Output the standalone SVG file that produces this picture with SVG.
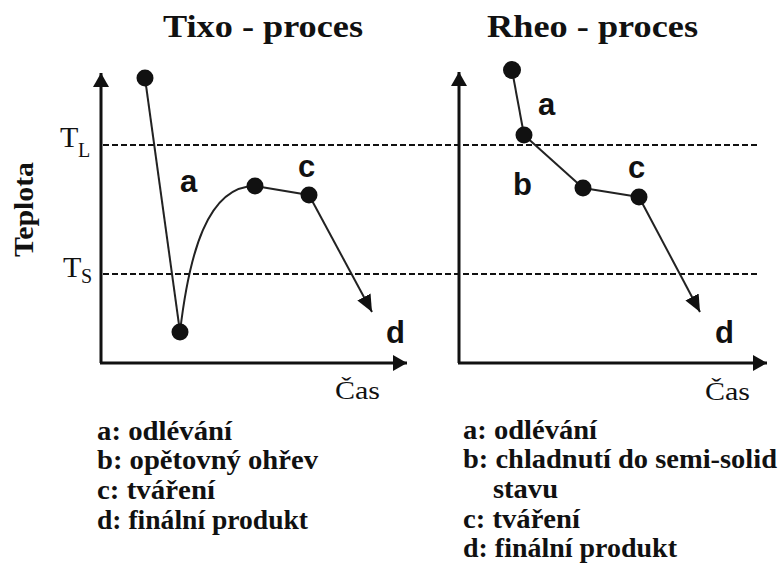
<svg xmlns="http://www.w3.org/2000/svg" width="780" height="568" viewBox="0 0 780 568">
<style>
.title{font-family:"Liberation Serif","Times New Roman",serif;font-weight:bold;font-size:32px;fill:#111}
.leg{font-family:"Liberation Serif","Times New Roman",serif;font-weight:bold;font-size:27.5px;fill:#111}
.lbl{font-family:"Liberation Sans",Arial,sans-serif;font-weight:bold;font-size:31px;fill:#111}
.tt{font-family:"Liberation Serif","Times New Roman",serif;font-size:30px;fill:#111}
.ts{font-family:"Liberation Serif","Times New Roman",serif;font-size:20px;fill:#111}
.cas{font-family:"Liberation Serif","Times New Roman",serif;font-size:26px;fill:#111}
.axis{stroke:#111;stroke-width:3;fill:none}
.dash{stroke:#111;stroke-width:2;stroke-dasharray:6 3;fill:none}
.conn{stroke:#222;stroke-width:2;fill:none}
.dot{fill:#111}
</style>
<defs>
<marker id="axhead" markerUnits="userSpaceOnUse" markerWidth="16" markerHeight="18" refX="14" refY="8" orient="auto">
<path d="M0,0 L14,8 L0,16 Z" fill="#111"/>
</marker>
<marker id="arhead" markerUnits="userSpaceOnUse" markerWidth="18" markerHeight="16" refX="17" refY="7.5" orient="auto">
<path d="M0,0 L17,7.5 L0,15 Z" fill="#111"/>
</marker>
</defs>
<rect width="780" height="568" fill="#fff"/>

<g id="titles">
<text class="title" x="163" y="37" textLength="200" lengthAdjust="spacingAndGlyphs">Tixo - proces</text>
<text class="title" x="487" y="37" textLength="211" lengthAdjust="spacingAndGlyphs">Rheo - proces</text>
</g>

<g id="axes">
<line class="axis" x1="101" y1="363" x2="101" y2="73" marker-end="url(#axhead)"/>
<line class="axis" x1="100" y1="363" x2="407" y2="363" marker-end="url(#axhead)"/>
<line class="axis" x1="459" y1="363" x2="459" y2="72" marker-end="url(#axhead)"/>
<line class="axis" x1="458" y1="363" x2="767" y2="363" marker-end="url(#axhead)"/>
<line class="dash" x1="103" y1="145" x2="759" y2="145"/>
<line class="dash" x1="103" y1="274" x2="757" y2="274"/>
<text class="tt" x="60" y="147">T</text><text class="ts" x="78" y="157">L</text>
<text class="tt" x="63" y="277">T</text><text class="ts" x="81" y="283">S</text>
<text class="leg" transform="translate(33,209.5) rotate(-90)" text-anchor="middle" font-size="30" textLength="95" lengthAdjust="spacingAndGlyphs">Teplota</text>
<text class="cas" x="335" y="399" textLength="45" lengthAdjust="spacingAndGlyphs">Čas</text>
<text class="cas" x="705" y="400" textLength="45" lengthAdjust="spacingAndGlyphs">Čas</text>
</g>

<g id="connectors">
<path class="conn" d="M145,78 L180,332"/>
<path class="conn" d="M180,332 C189,255 207,186 255,186"/>
<path class="conn" d="M255,186 L309,195"/>
<path class="conn" d="M309,195 L372,312" marker-end="url(#arhead)"/>
<path class="conn" d="M512,70 L524,135"/>
<path class="conn" d="M524,135 L583,188"/>
<path class="conn" d="M583,188 L639,197"/>
<path class="conn" d="M639,197 L700,312" marker-end="url(#arhead)"/>
</g>

<g id="tixo-start"><circle class="dot" cx="145" cy="78" r="8.5"/></g>
<g id="tixo-min"><circle class="dot" cx="180" cy="332" r="8.5"/></g>
<g id="tixo-reheat"><circle class="dot" cx="255" cy="186" r="8.5"/></g>
<g id="tixo-form"><circle class="dot" cx="309" cy="195" r="8.5"/></g>
<g id="rheo-start"><circle class="dot" cx="512" cy="70" r="9"/></g>
<g id="rheo-liquidus"><circle class="dot" cx="524" cy="135" r="8.5"/></g>
<g id="rheo-semisolid"><circle class="dot" cx="583" cy="188" r="8.5"/></g>
<g id="rheo-form"><circle class="dot" cx="639" cy="197" r="8.5"/></g>

<g id="point-labels">
<text class="lbl" x="180" y="192">a</text>
<text class="lbl" x="298" y="177">c</text>
<text class="lbl" x="386" y="343">d</text>
<text class="lbl" x="538" y="115">a</text>
<text class="lbl" x="513" y="195">b</text>
<text class="lbl" x="628" y="178">c</text>
<text class="lbl" x="715" y="343">d</text>
</g>

<g id="legend-tixo">
<text class="leg" x="97" y="440" textLength="135" lengthAdjust="spacingAndGlyphs">a: odlévání</text>
<text class="leg" x="97" y="469" textLength="221" lengthAdjust="spacingAndGlyphs">b: opětovný ohřev</text>
<text class="leg" x="97" y="499" textLength="118" lengthAdjust="spacingAndGlyphs">c: tváření</text>
<text class="leg" x="97" y="529" textLength="211" lengthAdjust="spacingAndGlyphs">d: finální produkt</text>
</g>

<g id="legend-rheo">
<text class="leg" x="463" y="439" textLength="134" lengthAdjust="spacingAndGlyphs">a: odlévání</text>
<text class="leg" x="463" y="468" textLength="314" lengthAdjust="spacingAndGlyphs">b: chladnutí do semi-solid</text>
<text class="leg" x="493" y="498" textLength="65" lengthAdjust="spacingAndGlyphs">stavu</text>
<text class="leg" x="463" y="528" textLength="117" lengthAdjust="spacingAndGlyphs">c: tváření</text>
<text class="leg" x="463" y="557" textLength="214" lengthAdjust="spacingAndGlyphs">d: finální produkt</text>
</g>
</svg>
